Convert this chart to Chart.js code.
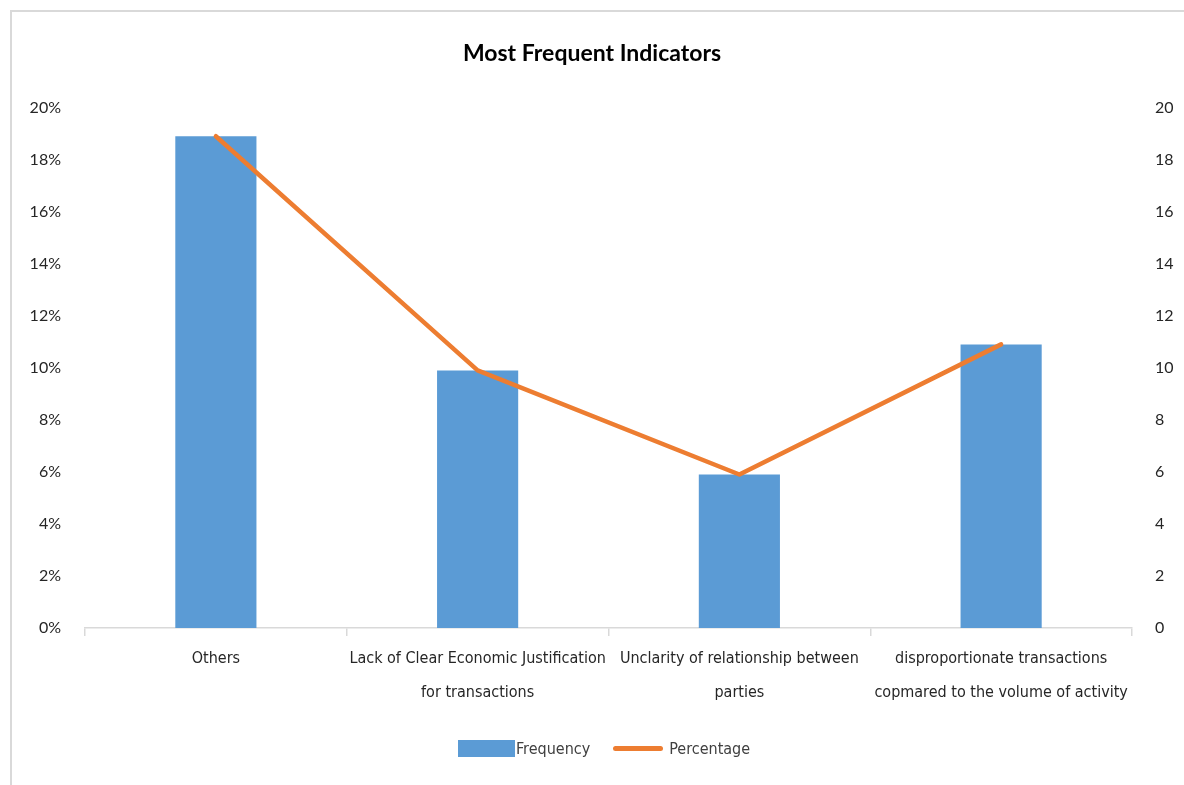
<!DOCTYPE html>
<html>
<head>
<meta charset="utf-8">
<script src="https://cdn.jsdelivr.net/npm/chart.js@4.4.1/dist/chart.umd.min.js"></script>
<style>
  body { margin: 0; width: 1184px; height: 785px; overflow: hidden; background: #fff; }
  #frame { position: absolute; left: 10px; top: 10px; width: 1200px; height: 800px;
           border-top: 2px solid #d9d9d9; border-left: 2px solid #d9d9d9; }
  #wrap { position: absolute; left: 0; top: 0; width: 1184px; height: 785px; }
  #legend { position: absolute; left: 458px; top: 739px; display: flex; align-items: center;
            font: 16px 'Liberation Sans Narrow', 'DejaVu Sans Condensed', sans-serif; color: #404040; }
  .sw-bar { width: 57px; height: 17px; background: #5b9bd5; margin-right: 1px; }
  .sw-line { width: 50px; height: 5px; border-radius: 3px; background: #ed7d31; margin: 0 6px 0 23px; }
</style>
</head>
<body>
<div id="frame"></div>
<div id="wrap"><canvas id="chart"></canvas></div>
<div id="legend">
  <div class="sw-bar"></div><span>Frequency</span>
  <div class="sw-line"></div><span>Percentage</span>
</div>
<script>
// data
const categories = [
    'Others',
    ['Lack of Clear Economic Justification', 'for transactions'],
    ['Unclarity of relationship between', 'parties'],
    ['disproportionate transactions', 'copmared to the volume of activity']
];
const frequency = [18.9, 9.9, 5.9, 10.9];   // bars, left % axis
const percentage = [18.9, 9.9, 5.9, 10.9];  // line, right axis
const leftTicks = [0, 2, 4, 6, 8, 10, 12, 14, 16, 18, 20];

const tickFont = { family: 'Lato', size: 16 };
const catFont = { family: "'Liberation Sans Narrow', 'DejaVu Sans Condensed', sans-serif", size: 16, lineHeight: 2.1 };

const ctx = document.getElementById('chart');

new Chart(ctx, {
    data: {
        labels: categories,
        datasets: [
            {
                type: 'line',
                label: 'Percentage',
                data: percentage,
                yAxisID: 'y2',
                borderColor: '#ed7d31',
                backgroundColor: '#ed7d31',
                borderWidth: 4.5,
                borderCapStyle: 'round',
                borderJoinStyle: 'round',
                pointRadius: 0,
                tension: 0
            },
            {
                type: 'bar',
                label: 'Frequency',
                data: frequency,
                yAxisID: 'y',
                backgroundColor: '#5b9bd5',
                categoryPercentage: 0.31,
                barPercentage: 1
            }
        ]
    },
    options: {
        responsive: true,
        maintainAspectRatio: false,
        animation: false,
        plugins: {
            legend: { display: false },
            tooltip: { enabled: false },
            title: {
                display: true,
                text: 'Most Frequent Indicators',
                color: '#000',
                font: { family: 'Lato', size: 23, weight: 'bold' },
                padding: { top: 40, bottom: 40 }
            }
        },
        scales: {
            x: {
                grid: { offset: true, drawOnChartArea: false, drawTicks: true, tickLength: 8, color: '#d9d9d9', lineWidth: 1.5 },
                border: { color: '#d9d9d9', width: 1.5 },
                ticks: { color: '#262626', font: catFont, padding: 6, maxRotation: 0, autoSkip: false },
                afterFit: (s) => { s.height = 157; }
            },
            y: {
                position: 'left',
                min: 0, max: 20,
                grid: { display: false },
                border: { display: false },
                ticks: {
                    stepSize: 2,
                    color: '#262626',
                    font: tickFont,
                    padding: 16,
                    callback: (v) => leftTicks.includes(v) ? v + '%' : ''
                },
                afterFit: (s) => { s.width = 85; }
            },
            y2: {
                position: 'right',
                min: 0, max: 20,
                grid: { display: false },
                border: { display: false },
                ticks: { stepSize: 2, color: '#262626', font: tickFont, padding: 15 },
                afterFit: (s) => { s.width = 52; }
            }
        }
    }
});
</script>
</body>
</html>
